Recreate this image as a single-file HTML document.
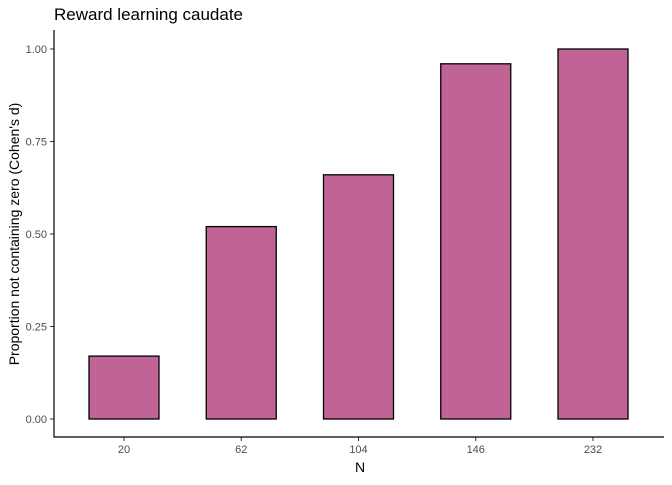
<!DOCTYPE html>
<html><head><meta charset="utf-8"><style>
body{margin:0;background:#fff;font-family:"Liberation Sans",Arial,sans-serif;}
</style></head><body>
<svg width="672" height="480" xmlns="http://www.w3.org/2000/svg">
<text x="54" y="20" font-size="17" fill="#000">Reward learning caudate</text>
<g id="plot"></g>
<line x1="54" y1="30" x2="54" y2="437.5" stroke="#000" stroke-width="1.2"/>
<line x1="53.5" y1="437" x2="664" y2="437" stroke="#000" stroke-width="1.2"/>
<text x="360" y="472" font-size="14" text-anchor="middle">N</text>
<text transform="translate(19,234) rotate(-90)" font-size="14" text-anchor="middle">Proportion not containing zero (Cohen's d)</text>
</svg>
<script>
const categories=["20","62","104","146","232"];
const values=[0.17,0.52,0.66,0.96,1.00];
const yTicks=[0,0.25,0.5,0.75,1.0];
const yTickLabels=["0.00","0.25","0.50","0.75","1.00"];
const ns="http://www.w3.org/2000/svg";
const g=document.getElementById("plot");
const y=v=>419-v*370;
const step=117.25, x0=124;
const x=i=>x0+i*step;
const bw=70;
function mk(t,a){const e=document.createElementNS(ns,t);for(const k in a)e.setAttribute(k,a[k]);g.appendChild(e);return e;}
yTicks.forEach((v,i)=>{
 const l=mk("line",{x1:50,x2:54,y1:y(v),y2:y(v),stroke:"#333"});
 
 
 const t=mk("text",{x:47,y:y(v)+4,"font-size":11,fill:"#4d4d4d","text-anchor":"end"});
 t.textContent=yTickLabels[i];
 
 
});
categories.forEach((c,i)=>{
 const r=mk("rect",{x:x(i)-bw/2,y:y(values[i]),width:bw,height:y(0)-y(values[i]),fill:"#C06496",stroke:"#000","stroke-width":1.3});
 
 
 const l=mk("line",{x1:x(i),x2:x(i),y1:437,y2:441,stroke:"#333"});
 
 
 const t=mk("text",{x:x(i),y:453,"font-size":11,fill:"#4d4d4d","text-anchor":"middle"});
 t.textContent=c;
 
 
});
</script>
</body></html>
